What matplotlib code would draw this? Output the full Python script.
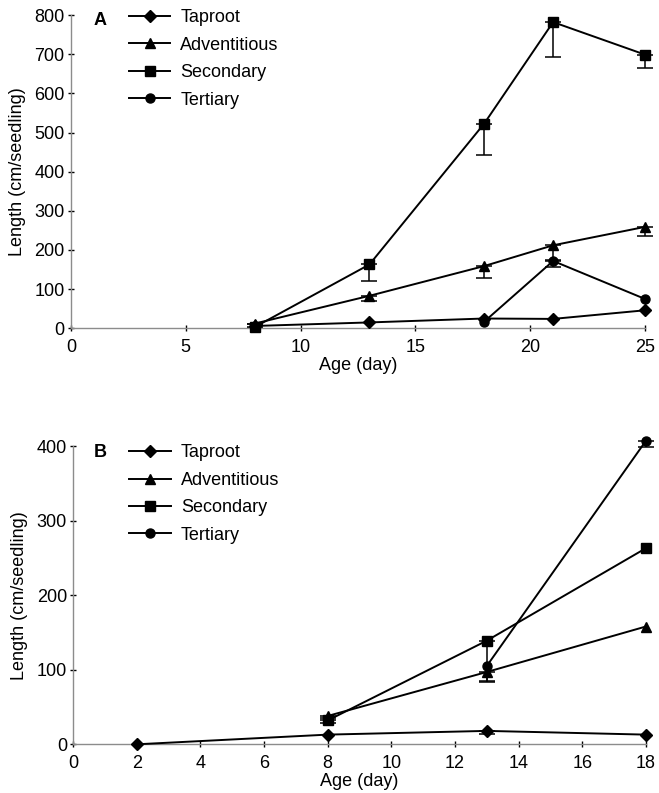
import numpy as np
import matplotlib
matplotlib.use("Agg")
import matplotlib.pyplot as plt

plt.rcParams['font.family'] = ['Liberation Sans', 'DejaVu Sans']

# panel A
age_a = [8, 13, 18, 21, 25]
tap_a = [6, 15, 25, 24, 46]
tap_a_err = [0, 0, 0, 0, 0]
adv_a = [12, 83, 159, 212, 259]
adv_a_err = [2, 13, 30, 38, 23]
sec_a = [3, 163, 523, 782, 699]
sec_a_err = [1, 42, 81, 89, 35]
age_a_ter = [18, 21, 25]
ter_a = [17, 172, 75]
ter_a_err = [0, 15, 0]

# panel B
age_b = [2, 8, 13, 18]
tap_b = [0, 13, 18, 13]
tap_b_err = [0, 0, 4, 0]
age_b_3 = [8, 13, 18]
adv_b = [38, 97, 158]
adv_b_err = [3, 12, 0]
sec_b = [32, 139, 263]
sec_b_err = [3, 55, 0]
age_b_ter = [13, 18]
ter_b = [105, 407]
ter_b_err = [0, 8]

labels = ['Taproot', 'Adventitious', 'Secondary', 'Tertiary']
markers = ['D', '^', 's', 'o']
msizes = [6.5, 7, 7, 6.5]
FS = 13

fig = plt.figure(figsize=(6.59, 7.93), dpi=100)
axA = fig.add_axes([0.1077, 0.586, 0.871, 0.395])
axB = fig.add_axes([0.111, 0.0614, 0.869, 0.376])


def draw(ax, series, leg_xy):
    for (x, y, e), lab, m, ms in zip(series, labels, markers, msizes):
        x = np.array(x, float)
        y = np.array(y, float)
        e = np.array(e, float)
        ax.plot(x, y, color='black', lw=1.4, marker=m, ms=ms, label=lab,
                clip_on=False, zorder=3)
        # only the lower half of the error bar is drawn
        k = e > 0
        if k.any():
            ax.errorbar(x[k], y[k], yerr=[e[k], np.zeros(k.sum())], fmt='none',
                        ecolor='black', capsize=5.5, elinewidth=1.1, capthick=1.1,
                        clip_on=False, zorder=2)
    for s in ['top', 'right']:
        ax.spines[s].set_visible(False)
    for s in ['left', 'bottom']:
        ax.spines[s].set_color('#8c8c8c')
        ax.spines[s].set_linewidth(1.0)
    ax.tick_params(direction='inout', length=5, width=1, color='black', labelsize=FS)
    ax.tick_params(axis='x', pad=5)
    ax.tick_params(axis='y', pad=2)
    ax.set_ylabel('Length (cm/seedling)', fontsize=FS, labelpad=6)
    ax.set_xlabel('Age (day)', fontsize=FS, labelpad=1)
    ax.legend(loc='upper left', bbox_to_anchor=leg_xy, borderaxespad=0, borderpad=0,
              frameon=False, fontsize=FS, handlelength=2.3, handletextpad=0.55,
              labelspacing=0.58, numpoints=1)


draw(axA, [(age_a, tap_a, tap_a_err), (age_a, adv_a, adv_a_err),
           (age_a, sec_a, sec_a_err), (age_a_ter, ter_a, ter_a_err)], (0.101, 1.019))
axA.set_xlim(0, 25)
axA.set_ylim(0, 800)
axA.set_xticks(range(0, 26, 5))
axA.set_yticks(range(0, 801, 100))
axA.text(0.0505, 0.984, 'A', transform=axA.transAxes, fontsize=FS, fontweight='bold',
         va='center', ha='center')

draw(axB, [(age_b, tap_b, tap_b_err), (age_b_3, adv_b, adv_b_err),
           (age_b_3, sec_b, sec_b_err), (age_b_ter, ter_b, ter_b_err)], (0.098, 1.006))
axB.set_xlim(0, 18)
axB.set_ylim(0, 400)
axB.set_xticks(range(0, 19, 2))
axB.set_yticks(range(0, 401, 100))
axB.text(0.047, 0.98, 'B', transform=axB.transAxes, fontsize=FS, fontweight='bold',
         va='center', ha='center')

fig.savefig('out.png', dpi=100)
